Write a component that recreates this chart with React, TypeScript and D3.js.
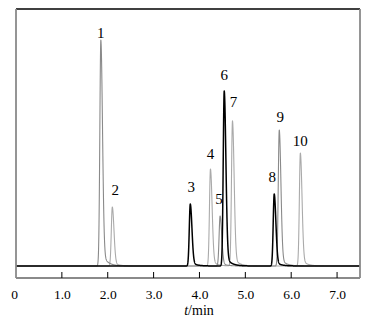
import React from "react";
import * as d3 from "d3";

// ---- data ----
const peakLabels = ["1", "2", "3", "4", "5", "6", "7", "8", "9", "10"];
const peakTimes = [1.85, 2.1, 3.8, 4.24, 4.45, 4.54, 4.72, 5.63, 5.74, 6.2];
const peakHeights = [226, 59, 62, 97, 50, 175, 145, 72, 136, 113];
const peakSeries = [1, 2, 0, 2, 1, 0, 2, 0, 1, 2];
const labelGap = [2, 12, 12, 10, 12, 11, 14, 12, 8, 7];
const labelShift = [0, 3, 1, 0, -1, 0, 1, -2, 1, 0];
const seriesColors = ["#000000", "#8a8a8a", "#aaaaaa"];
const seriesWidths = [1.5, 1.1, 1.1];
const xTicks = [0, 1, 2, 3, 4, 5, 6, 7];
const xTickLabels = ["0", "1.0", "2.0", "3.0", "4.0", "5.0", "6.0", "7.0"];

const W = 383;
const H = 332;
const left = 16;
const right = 360;
const top = 9;
const bottom = 278;

const x = d3.scaleLinear().domain([0, 7.5]).range([left, right]);
const y = d3.scaleLinear().domain([-12, 257]).range([bottom, top]);

function peakShape(t: number, t0: number, h: number): number {
  const d = t - t0;
  if (d < 0) return h * Math.exp(-0.5 * (d / 0.022) ** 2);
  return h * (0.93 * Math.exp(-0.5 * (d / 0.036) ** 2) + 0.07 * Math.exp(-d / 0.11));
}

function buildTrace(series: number): [number, number][] {
  const pts: [number, number][] = [];
  const n = 3750;
  for (let i = 0; i <= n; i++) {
    const t = (7.5 * i) / n;
    let v = 0;
    peakTimes.forEach((t0, k) => {
      if (peakSeries[k] === series && Math.abs(t - t0) < 1.2) v += peakShape(t, t0, peakHeights[k]);
    });
    pts.push([t, v]);
  }
  return pts;
}

const font = "Liberation Serif, Times New Roman, Times, serif";

export default function App() {
  const line = d3
    .line<[number, number]>()
    .x((d) => x(d[0]))
    .y((d) => y(d[1]));
  const order = [2, 1, 0];
  return (
    <svg width={W} height={H} style={{ position: "absolute", left: 0, top: 0, background: "#fff" }}>
      <defs>
        <clipPath id="plot">
          <rect x={left} y={top} width={right - left} height={bottom - top} />
        </clipPath>
      </defs>
      <g clipPath="url(#plot)">
        {order.map((s) => (
          <path
            key={s}
            d={line(buildTrace(s)) || ""}
            fill="none"
            stroke={seriesColors[s]}
            strokeWidth={seriesWidths[s]}
            strokeLinejoin="round"
          />
        ))}
      </g>
      {/* frame */}
      <line x1={left} x2={right} y1={top} y2={top} stroke="#000" strokeWidth={1.6} />
      <line x1={left} x2={left} y1={top} y2={bottom} stroke="#8a8a8a" strokeWidth={1.8} />
      <line x1={right} x2={right} y1={top} y2={bottom} stroke="#8a8a8a" strokeWidth={1.8} />
      <line x1={left} x2={right} y1={bottom} y2={bottom} stroke="#8a8a8a" strokeWidth={1.8} />
      {/* ticks */}
      {xTicks.map((t, i) => (
        <g key={t}>
          {t > 0 && <line x1={x(t)} x2={x(t)} y1={bottom - 6} y2={bottom} stroke="#000" strokeWidth={1} />}
          <text
            x={t === 0 ? x(t) - 1.5 : x(t) + 0.5}
            y={299}
            textAnchor="middle"
            style={{ fontFamily: font, fontSize: "13.5px" }}
            fill="#000"
          >
            {xTickLabels[i]}
          </text>
        </g>
      ))}
      <text x={199} y={315} textAnchor="middle" style={{ fontFamily: font, fontSize: "14px" }} fill="#000">
        <tspan fontStyle="italic">t</tspan>
        <tspan>/min</tspan>
      </text>
      {/* peak labels */}
      {peakLabels.map((lab, k) => (
        <text
          key={lab}
          x={x(peakTimes[k]) + labelShift[k]}
          y={y(peakHeights[k]) - labelGap[k]}
          textAnchor="middle"
          style={{ fontFamily: font, fontSize: "15px" }}
          fill="#000"
        >
          {lab}
        </text>
      ))}
    </svg>
  );
}
